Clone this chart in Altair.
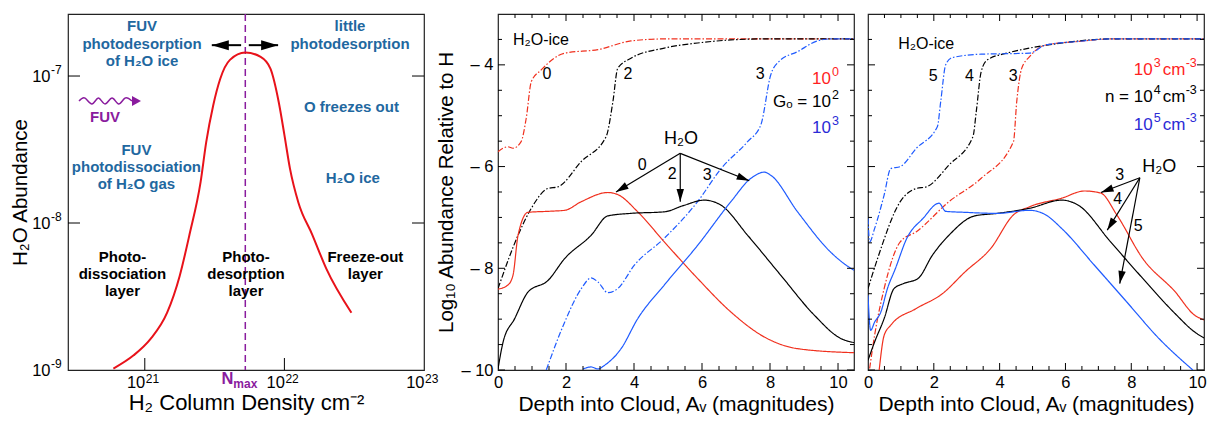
import altair as alt
import pandas as pd
import numpy as np

FONT = "Liberation Sans"
RED = "#f0301e"
BLUE = "#1f5bff"
BLACK = "#000000"
TEAL = "#1f68a0"
PURPLE = "#8a1c9e"
LRED = "#ff1f1f"
LBLUE = "#2b2bd6"
ARROW = "M0,0 L0.5,1.7 L-0.5,1.7 Z"
ARROW_FAT = "M0,0 L0.55,1 L-0.55,1 Z"

# ---------------- Panel 1 data (log10 N(H2), log10 x(H2O)) ----------------
p1_logN = [20.775, 20.92, 21.04, 21.16, 21.25, 21.32, 21.40, 21.44, 21.49, 21.54, 21.61,
           21.72, 21.83, 21.90, 21.96, 22.00, 22.04, 22.10, 22.20, 22.30, 22.48]
p1_logX = [-8.99, -8.90, -8.79, -8.61, -8.36, -8.08, -7.72, -7.45, -7.20, -7.02, -6.89,
           -6.84, -6.87, -6.95, -7.18, -7.40, -7.63, -7.86, -8.08, -8.31, -8.61]
p1_nmax = 21.72
p1_xdom = [20.45, 23.0]
p1_ydom = [-9.0, -6.578]
p1_xtick = [21, 22]
p1_ytick = [-8, -7]
p1_xlab_v = [21, 22, 23]
p1_xlab_sup = ["21", "22", "23"]
p1_ylab_v = [-9, -8, -7]
p1_ylab_sup = ["-9", "-8", "-7"]

p1_blue_t = ["FUV", "photodesorption", "of H₂O ice", "little", "photodesorption",
             "O freezes out", "FUV", "photodissociation", "of H₂O gas", "H₂O ice"]
p1_blue_x = [20.98, 20.98, 20.98, 22.47, 22.47, 22.48, 20.94, 20.94, 20.94, 22.49]
p1_blue_y = [-6.66, -6.782, -6.898, -6.66, -6.782, -7.211, -7.503, -7.619, -7.735, -7.694]
p1_black_t = ["Photo-", "dissociation", "layer", "Photo-", "desorption", "layer", "Freeze-out", "layer"]
p1_black_x = [20.84, 20.84, 20.84, 21.725, 21.725, 21.725, 22.58, 22.58]
p1_black_y = [-8.231, -8.347, -8.463, -8.231, -8.347, -8.463, -8.231, -8.347]
p1_arr_x0 = [21.69, 21.745]
p1_arr_x1 = [21.48, 21.955]
p1_arr_y = -6.79
# wavy FUV arrow, crest / trough points
p1_wave_x = [20.529, 20.572, 20.622, 20.668, 20.715, 20.765, 20.812, 20.858, 20.908]
p1_wave_y = [-7.170, -7.150, -7.190, -7.150, -7.190, -7.150, -7.190, -7.150, -7.170]
p1_wave_tip = (20.973, -7.17)
p1_fuvlab_x, p1_fuvlab_y = 20.715, -7.28

# ---------------- Panel 2 data (G0 series) ----------------
p2_ice0_x = [0, 0.29, 0.44, 0.68, 0.83, 0.98, 1.27, 1.96, 2.94, 3.91, 4.89, 6.0, 8.0, 10.47]
p2_ice0_y = [-5.71, -5.61, -5.64, -5.51, -5.05, -4.33, -4.10, -3.77, -3.70, -3.53, -3.49, -3.49, -3.49, -3.49]
p2_ice2_x = [0, 0.59, 0.98, 1.47, 1.76, 2.45, 3.18, 3.38, 3.52, 3.91, 4.89, 5.87, 6.85, 7.83, 10.47]
p2_ice2_y = [-8.40, -7.35, -6.82, -6.43, -6.40, -5.90, -5.41, -4.72, -4.07, -3.87, -3.67, -3.57, -3.51, -3.49, -3.49]
p2_ice3_x = [1.42, 1.96, 2.45, 2.74, 2.94, 3.23, 3.52, 4.01, 4.89, 5.87, 6.56, 7.34, 7.73, 8.02, 8.27, 8.81, 9.39, 9.78, 10.47]
p2_ice3_y = [-10, -9.06, -8.40, -8.19, -8.27, -8.48, -8.40, -7.94, -7.41, -6.69, -6.04, -5.51, -5.18, -4.20, -3.93, -3.74, -3.53, -3.49, -3.49]
p2_gas0_x = [0, 0.29, 0.44, 0.59, 0.88, 1.47, 1.96, 2.45, 3.23, 3.52, 4.11, 4.89, 5.87, 6.85, 7.83, 8.81, 10.47]
p2_gas0_y = [-8.41, -8.33, -8.14, -7.35, -6.90, -6.88, -6.86, -6.69, -6.51, -6.55, -6.89, -7.48, -8.20, -8.86, -9.35, -9.58, -9.66]
p2_gas2_x = [0, 0.15, 0.49, 0.88, 1.47, 1.96, 2.74, 3.23, 3.91, 4.89, 5.48, 6.07, 6.56, 7.34, 8.32, 9.30, 10.08, 10.47]
p2_gas2_y = [-9.98, -9.45, -8.99, -8.47, -8.24, -7.81, -7.35, -6.97, -6.92, -6.89, -6.76, -6.66, -6.76, -7.35, -8.14, -8.92, -9.38, -9.46]
p2_gas3_x = [2.50, 2.74, 2.94, 3.13, 3.62, 4.11, 4.89, 5.87, 6.85, 7.44, 7.83, 8.02, 8.81, 9.78, 10.18, 10.47]
p2_gas3_y = [-9.98, -9.94, -9.98, -9.91, -9.58, -8.99, -8.33, -7.55, -6.69, -6.23, -6.11, -6.17, -6.89, -7.68, -7.91, -8.04]
p2_xdom = [0, 10.47]

p2_lab_t = ["0", "2", "3"]
p2_lab_x = [1.44, 3.82, 7.71]
p2_lab_y = [-4.18, -4.18, -4.18]
p2_leg_base = ["10", "Gₒ = 10", "10"]
p2_leg_sup = ["0", "2", "3"]
p2_leg_c = [LRED, BLACK, LBLUE]
p2_leg_x = 9.79
p2_leg_y = [-4.27, -4.73, -5.25]
p2_ice_lab = (0.44, -3.51)
p2_h2o_lab = (5.38, -5.45)
p2_arr_start = (5.36, -5.74)
p2_arr_end_x = [3.47, 5.36, 7.39]
p2_arr_end_y = [-6.50, -6.69, -6.28]
p2_arrlab_t = ["0", "2", "3"]
p2_arrlab_x = [4.24, 5.12, 6.15]
p2_arrlab_y = [-5.97, -6.14, -6.16]

# ---------------- Panel 3 data (density series) ----------------
p3_ice5_x = [0.0, 0.05, 0.2, 0.49, 0.69, 0.98, 1.47, 2.11, 2.21, 2.36, 2.55, 3.44, 4.22, 4.91, 5.40, 6.39, 7.37, 10.24]
p3_ice5_y = [-7.02, -7.48, -7.22, -6.56, -6.04, -6.0, -5.64, -5.21, -4.72, -4.0, -3.86, -3.79, -3.78, -3.77, -3.61, -3.54, -3.49, -3.49]
p3_ice4_x = [0, 0.29, 0.98, 1.47, 1.77, 2.46, 3.19, 3.29, 3.44, 3.63, 4.22, 4.91, 5.89, 7.37, 10.24]
p3_ice4_y = [-8.40, -7.81, -6.69, -6.43, -6.40, -5.97, -5.41, -4.92, -4.13, -3.90, -3.77, -3.67, -3.57, -3.49, -3.49]
p3_ice3_x = [0.05, 0.2, 0.49, 0.98, 1.47, 2.46, 3.44, 4.42, 4.52, 4.67, 4.91, 5.40, 6.39, 7.37, 10.24]
p3_ice3_y = [-9.97, -9.32, -8.40, -7.48, -7.28, -6.69, -6.23, -5.51, -4.72, -4.07, -3.84, -3.61, -3.54, -3.49, -3.49]
p3_gas5_x = [0, 0.08, 0.2, 0.39, 0.59, 0.83, 1.18, 1.67, 2.16, 2.36, 2.95, 3.93, 4.91, 5.40, 5.89, 6.88, 7.86, 8.84, 9.87]
p3_gas5_y = [-8.53, -9.22, -9.06, -8.86, -8.40, -8.01, -7.41, -7.02, -6.72, -6.88, -6.90, -6.92, -6.86, -6.95, -7.22, -7.94, -8.66, -9.38, -10.0]
p3_gas4_x = [0, 0.2, 0.49, 0.79, 1.08, 1.52, 1.96, 2.46, 3.24, 3.93, 4.91, 5.89, 6.39, 7.37, 8.35, 9.33, 9.92, 10.24]
p3_gas4_y = [-9.81, -9.45, -8.99, -8.40, -8.30, -8.20, -7.74, -7.35, -6.97, -6.92, -6.82, -6.66, -6.76, -7.48, -8.20, -8.89, -9.25, -9.38]
p3_gas3_x = [0.34, 0.49, 0.69, 1.47, 2.26, 2.95, 3.73, 4.42, 4.91, 5.89, 6.58, 7.07, 7.56, 8.35, 9.33, 9.92, 10.24]
p3_gas3_y = [-10, -9.32, -9.12, -8.79, -8.50, -8.07, -7.61, -6.95, -6.79, -6.62, -6.48, -6.52, -6.95, -7.81, -8.46, -8.92, -9.02]
p3_xdom = [0, 10.21]

p3_lab_t = ["5", "4", "3"]
p3_lab_x = [1.98, 3.08, 4.41]
p3_lab_y = [-4.22, -4.22, -4.22]
p3_leg_base = ["10", "n = 10", "10"]
p3_leg_sup = ["3", "4", "5"]
p3_leg_unit = ["cm", "cm", "cm"]
p3_leg_unit_sup = ["-3", "-3", "-3"]
p3_leg_c = [LRED, BLACK, LBLUE]
p3_leg_x = 8.65
p3_leg_y = [-4.10, -4.63, -5.18]
p3_ice_lab = (0.92, -3.59)
p3_h2o_lab = (8.85, -6.0)
p3_arr_start = (8.26, -6.22)
p3_arr_end_x = [7.08, 7.27, 7.65]
p3_arr_end_y = [-6.51, -7.25, -8.30]
p3_arrlab_t = ["3", "4", "5"]
p3_arrlab_x = [7.65, 7.59, 8.21]
p3_arrlab_y = [-6.16, -6.63, -7.17]

# shared axis values for panels 2 and 3
ab_ydom = [-10.0, -3.0]
ab_ylab_v = [-10, -8, -6, -4]
ab_ylab_t = ["– 10", "– 8", "– 6", "– 4"]
ab_y_major = [-10, -8, -6, -4]
ab_y_minor = [-9.5, -9, -8.5, -7.5, -7, -6.5, -5.5, -5, -4.5, -3.5]
av_xlab_v = [0, 2, 4, 6, 8, 10]
av_x_major = [2, 4, 6, 8, 10]
av_x_minor = [0.5, 1, 1.5, 2.5, 3, 3.5, 4.5, 5, 5.5, 6.5, 7, 7.5, 8.5, 9, 9.5]

W1, W2, W3, H = 356, 356, 336, 356

AX = dict(ticks=False, domain=False, grid=False, labelFlush=False, labelColor="black",
          titleColor="black", titleFontWeight="normal", labelFont=FONT, titleFont=FONT)


def label_expr(vals, txts):
    expr = "''"
    for v, t in zip(vals, txts):
        expr = f"datum.value == {v} ? '{t}' : ({expr})"
    return expr


def enc_x(sc, ax, f="x"):
    return alt.X(f"{f}:Q", scale=sc, axis=ax)


def enc_y(sc, ax, f="y"):
    return alt.Y(f"{f}:Q", scale=sc, axis=ax)


def yticks(vals, ys, ya, W, L, side):
    d = pd.DataFrame({"y": vals})
    a, b = (0, L) if side == "left" else (W - L, W)
    return alt.Chart(d).mark_rule(color="black", strokeWidth=1).encode(
        y=enc_y(ys, ya), x=alt.value(a), x2=alt.value(b))


def xticks(vals, xs, xa, L, side):
    d = pd.DataFrame({"x": vals})
    a, b = (H, H - L) if side == "bottom" else (0, L)
    return alt.Chart(d).mark_rule(color="black", strokeWidth=1).encode(
        x=enc_x(xs, xa), y=alt.value(a), y2=alt.value(b))


def texts(t, x, y, c, xs, ys, xa, ya, size, align="center", weight="normal",
          baseline="middle", dx=0, dy=0):
    d = pd.DataFrame({"x": x, "y": y, "t": t, "c": c})
    return alt.Chart(d).mark_text(fontSize=size, align=align, baseline=baseline,
                                  fontWeight=weight, font=FONT, dx=dx, dy=dy).encode(
        x=enc_x(xs, xa), y=enc_y(ys, ya), text="t:N", color=alt.Color("c:N", scale=None))


def heads(x0, y0, x1, y1, xs, ys, xa, ya, sx, sy, size, shape=ARROW, color="black"):
    d = pd.DataFrame({"x": x0, "y": y0, "x2": x1, "y2": y1})
    d["ang"] = np.degrees(np.arctan2((d.x2 - d.x) * sx, (d.y2 - d.y) * sy)) % 360
    return alt.Chart(d).mark_point(shape=shape, filled=True, size=size, color=color,
                                   opacity=1, strokeWidth=0).encode(
        x=enc_x(xs, xa, "x2"), y=enc_y(ys, ya, "y2"), angle=alt.Angle("ang:Q", scale=None))


def arrows(x0, y0, x1, y1, xs, ys, xa, ya, sx, sy, size, width):
    d = pd.DataFrame({"x": x0, "y": y0, "x2": x1, "y2": y1})
    shafts = alt.Chart(d).mark_rule(color="black", strokeWidth=width).encode(
        x=enc_x(xs, xa), y=enc_y(ys, ya), x2="x2:Q", y2="y2:Q")
    return [shafts, heads(x0, y0, x1, y1, xs, ys, xa, ya, sx, sy, size)]


def long_df(curves):
    rows = []
    for name, col, kind, xs, ys in curves:
        for a, b in zip(xs, ys):
            rows.append({"curve": name, "col": col, "kind": kind, "x": a, "y": b})
    return pd.DataFrame(rows)


# ---------------- Panel 1 ----------------
x1s = alt.Scale(domain=p1_xdom, nice=False, zero=False)
y1s = alt.Scale(domain=p1_ydom, nice=False, zero=False)
x1a = alt.Axis(values=p1_xlab_v, labelExpr="'10'", labelAlign="right",
               title="H₂ Column Density cm⁻²", titleFontSize=22, labelFontSize=16.5,
               labelPadding=4, titlePadding=2, **AX)
y1a = alt.Axis(values=p1_ylab_v, labelExpr="'10'",
               title="H₂O Abundance", titleFontSize=20.5, labelFontSize=16.5,
               labelPadding=18, titlePadding=1, **AX)
sx1 = W1 / (p1_xdom[1] - p1_xdom[0])
sy1 = H / (p1_ydom[1] - p1_ydom[0])

p1_curve = alt.Chart(pd.DataFrame({"x": p1_logN, "y": p1_logX})).mark_line(
    color="#e8121a", strokeWidth=2, interpolate="monotone", clip=True).encode(
    x=enc_x(x1s, x1a), y=enc_y(y1s, y1a))
p1_dash = alt.Chart(pd.DataFrame({"x": [p1_nmax]})).mark_rule(
    color=PURPLE, strokeWidth=1.5, strokeDash=[7, 4]).encode(x=enc_x(x1s, x1a))
p1_wave = alt.Chart(pd.DataFrame({"x": p1_wave_x, "y": p1_wave_y})).mark_line(
    color=PURPLE, strokeWidth=1.5, interpolate="natural").encode(
    x=enc_x(x1s, x1a), y=enc_y(y1s, y1a))
p1_layers = [p1_dash, p1_curve, p1_wave,
             heads([p1_wave_x[-1]], [p1_wave_y[-1]], [p1_wave_tip[0]], [p1_wave_tip[1]],
                   x1s, y1s, x1a, y1a, sx1, sy1, 324, ARROW_FAT, PURPLE),
             texts(p1_blue_t, p1_blue_x, p1_blue_y, [TEAL] * len(p1_blue_t), x1s, y1s, x1a, y1a, 15, weight="bold"),
             texts(p1_black_t, p1_black_x, p1_black_y, [BLACK] * len(p1_black_t), x1s, y1s, x1a, y1a, 15, weight="bold"),
             texts(["FUV"], [p1_fuvlab_x], [p1_fuvlab_y], [PURPLE], x1s, y1s, x1a, y1a, 15, weight="bold"),
             ]
p1_layers += arrows(p1_arr_x0, [p1_arr_y] * 2, p1_arr_x1, [p1_arr_y] * 2, x1s, y1s, x1a, y1a, sx1, sy1, 400, 2)
for side in ["left", "right"]:
    p1_layers.append(yticks(p1_ytick, y1s, y1a, W1, 12, side))
p1_layers.append(xticks(p1_xtick, x1s, x1a, 12, "bottom"))
# exponents of the axis labels
p1_layers.append(alt.Chart(pd.DataFrame({"x": p1_xlab_v, "t": p1_xlab_sup})).mark_text(
    fontSize=12, align="left", baseline="middle", dx=1, font=FONT, color="black").encode(
    x=enc_x(x1s, x1a), y=alt.value(H + 9), text="t:N"))
p1_layers.append(alt.Chart(pd.DataFrame({"y": p1_ylab_v, "t": p1_ylab_sup})).mark_text(
    fontSize=12, align="left", baseline="middle", dy=-6, font=FONT, color="black").encode(
    y=enc_y(y1s, y1a), x=alt.value(-17), text="t:N"))
nm = pd.DataFrame({"x": [p1_nmax]})
p1_layers.append(alt.Chart(nm).mark_text(text="N", fontSize=16.5, fontWeight="bold", color=PURPLE,
                                         align="right", baseline="middle", dx=-12, font=FONT).encode(
    x=enc_x(x1s, x1a), y=alt.value(H + 9)))
p1_layers.append(alt.Chart(nm).mark_text(text="max", fontSize=12, fontWeight="bold", color=PURPLE,
                                         align="left", baseline="middle", dx=-12, font=FONT).encode(
    x=enc_x(x1s, x1a), y=alt.value(H + 14)))
p1 = alt.layer(*p1_layers).properties(width=W1, height=H)


# ---------------- Panels 2 and 3 ----------------
def av_panel(curves, xdom, W, show_y, lab, legend_layers, ice_lab, h2o_lab, arr, arrlab):
    xs = alt.Scale(domain=xdom, nice=False, zero=False)
    ys = alt.Scale(domain=ab_ydom, nice=False, zero=False)
    xa = alt.Axis(values=av_xlab_v, title="Depth into Cloud, Aᵥ (magnitudes)", titleFontSize=21,
                  labelFontSize=16.5, labelPadding=4, titlePadding=3, **AX)
    if show_y:
        ya = alt.Axis(values=ab_ylab_v, labelExpr=label_expr(ab_ylab_v, ab_ylab_t),
                      title="Log₁₀ Abundance Relative to H", titleFontSize=20.5,
                      labelFontSize=16.5, labelPadding=5, titlePadding=4, **AX)
    else:
        ya = None
    df = long_df(curves)
    lines = alt.Chart(df).mark_line(strokeWidth=1.2, interpolate="monotone", clip=True).encode(
        x=enc_x(xs, xa), y=enc_y(ys, ya),
        color=alt.Color("col:N", scale=alt.Scale(domain=["r", "k", "b"], range=[RED, BLACK, BLUE]), legend=None),
        strokeDash=alt.StrokeDash("kind:N", scale=alt.Scale(domain=["gas", "ice"], range=[[1, 0], [6, 2, 1.5, 2]]), legend=None),
        detail="curve:N")
    layers = [lines]
    layers.append(texts(lab[0], lab[1], lab[2], [BLACK] * 3, xs, ys, xa, ya, 16))
    layers += legend_layers(xs, ys, xa, ya)
    layers.append(texts(["H₂O-ice"], [ice_lab[0]], [ice_lab[1]], [BLACK], xs, ys, xa, ya, 16, align="left"))
    layers.append(texts(["H₂O"], [h2o_lab[0]], [h2o_lab[1]], [BLACK], xs, ys, xa, ya, 18))
    layers.append(texts(arrlab[0], arrlab[1], arrlab[2], [BLACK] * 3, xs, ys, xa, ya, 16))
    sx = W / (xdom[1] - xdom[0])
    sy = H / (ab_ydom[1] - ab_ydom[0])
    n = len(arr[2])
    layers += arrows([arr[0]] * n, [arr[1]] * n, arr[2], arr[3], xs, ys, xa, ya, sx, sy, 220, 1.2)
    for side in ["left", "right"]:
        layers.append(yticks(ab_y_major, ys, ya, W, 7, side))
        layers.append(yticks(ab_y_minor, ys, ya, W, 4, side))
    for side in ["bottom", "top"]:
        layers.append(xticks(av_x_major, xs, xa, 7, side))
        layers.append(xticks(av_x_minor, xs, xa, 4, side))
    return alt.layer(*layers).properties(width=W, height=H)


def p2_legend(xs, ys, xa, ya):
    n = len(p2_leg_base)
    return [texts(p2_leg_base, [p2_leg_x] * n, p2_leg_y, p2_leg_c, xs, ys, xa, ya, 17, align="right"),
            texts(p2_leg_sup, [p2_leg_x] * n, p2_leg_y, p2_leg_c, xs, ys, xa, ya, 12.5, align="left", dx=1, dy=-7)]


def p3_legend(xs, ys, xa, ya):
    n = len(p3_leg_base)
    return [texts(p3_leg_base, [p3_leg_x] * n, p3_leg_y, p3_leg_c, xs, ys, xa, ya, 17, align="right"),
            texts(p3_leg_sup, [p3_leg_x] * n, p3_leg_y, p3_leg_c, xs, ys, xa, ya, 12.5, align="left", dx=1, dy=-7),
            texts(p3_leg_unit, [p3_leg_x] * n, p3_leg_y, p3_leg_c, xs, ys, xa, ya, 17, align="left", dx=10),
            texts(p3_leg_unit_sup, [p3_leg_x] * n, p3_leg_y, p3_leg_c, xs, ys, xa, ya, 12.5, align="left", dx=33, dy=-7)]


p2 = av_panel(
    [("ice0", "r", "ice", p2_ice0_x, p2_ice0_y), ("ice2", "k", "ice", p2_ice2_x, p2_ice2_y),
     ("ice3", "b", "ice", p2_ice3_x, p2_ice3_y), ("gas0", "r", "gas", p2_gas0_x, p2_gas0_y),
     ("gas2", "k", "gas", p2_gas2_x, p2_gas2_y), ("gas3", "b", "gas", p2_gas3_x, p2_gas3_y)],
    p2_xdom, W2, True, (p2_lab_t, p2_lab_x, p2_lab_y), p2_legend,
    p2_ice_lab, p2_h2o_lab, (p2_arr_start[0], p2_arr_start[1], p2_arr_end_x, p2_arr_end_y),
    (p2_arrlab_t, p2_arrlab_x, p2_arrlab_y))

p3 = av_panel(
    [("ice3", "r", "ice", p3_ice3_x, p3_ice3_y), ("ice4", "k", "ice", p3_ice4_x, p3_ice4_y),
     ("ice5", "b", "ice", p3_ice5_x, p3_ice5_y), ("gas3", "r", "gas", p3_gas3_x, p3_gas3_y),
     ("gas4", "k", "gas", p3_gas4_x, p3_gas4_y), ("gas5", "b", "gas", p3_gas5_x, p3_gas5_y)],
    p3_xdom, W3, False, (p3_lab_t, p3_lab_x, p3_lab_y), p3_legend,
    p3_ice_lab, p3_h2o_lab, (p3_arr_start[0], p3_arr_start[1], p3_arr_end_x, p3_arr_end_y),
    (p3_arrlab_t, p3_arrlab_x, p3_arrlab_y))

spacer = alt.Chart(pd.DataFrame({"x": [0]})).mark_point(opacity=0).encode(
    x=alt.X("x:Q", axis=None), y=alt.Y("x:Q", axis=None)).properties(
    width=46, height=H, view=alt.ViewBackground(stroke="transparent"))

chart = alt.hconcat(p1, spacer, p2, p3, spacing=14, bounds="flush").properties(
    padding={"left": 2, "top": 4, "right": 0, "bottom": 0}
).configure(font=FONT).configure_view(stroke="#222222", strokeWidth=1.2)

chart.save("out.html", embed_options={"renderer": "svg", "actions": False})
